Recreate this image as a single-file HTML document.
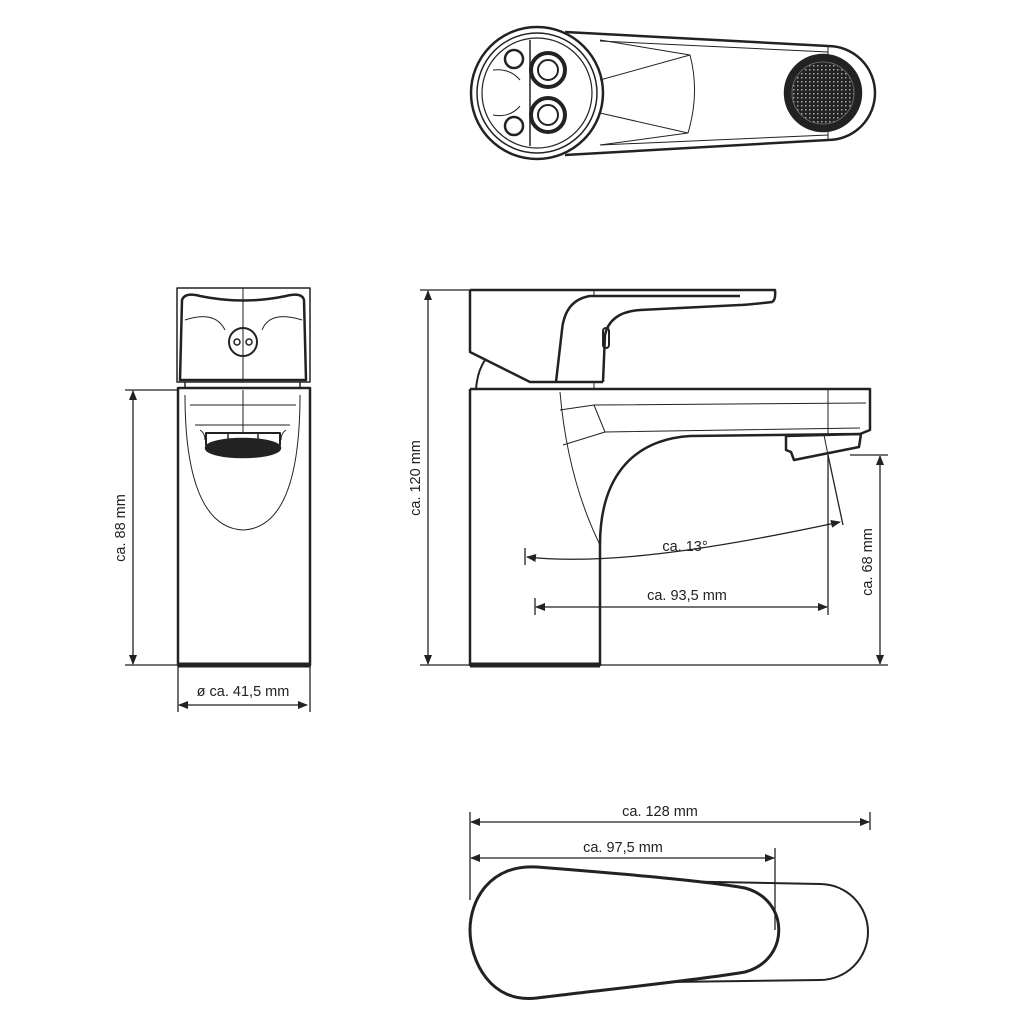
<!DOCTYPE html>
<html><head><meta charset="utf-8"><style>
html,body{margin:0;padding:0;background:#fff}
svg{display:block}
text{font-family:"Liberation Sans",sans-serif;font-size:14.5px;fill:#222}
</style></head><body>
<svg width="1024" height="1024" viewBox="0 0 1024 1024" xmlns="http://www.w3.org/2000/svg">
<defs>
<marker id="a" markerWidth="10" markerHeight="8" refX="9" refY="4" orient="auto-start-reverse" markerUnits="userSpaceOnUse"><path d="M0,0 L10,4 L0,8 Z" fill="#222"/></marker>
<pattern id="dots" width="4" height="4" patternUnits="userSpaceOnUse"><rect width="4" height="4" fill="#222"/><rect x="1" y="1" width="1.5" height="1.5" fill="#aaa"/></pattern>
</defs>
<g fill="none" stroke="#222" stroke-width="2.5" stroke-linejoin="round">
<!-- TOP VIEW -->
<path d="M565,32 L828,46 A47,47 0 0 1 828,140 L565,155"/>
<circle cx="537" cy="93" r="66" fill="#fff"/>
<circle cx="537" cy="93" r="60" stroke-width="1.5"/>
<circle cx="537" cy="93" r="55" stroke-width="1.2"/>
<path d="M530,40 L530,146" stroke-width="1.5"/>
<path d="M600,40 L690,55 Q700,93 688,133 L600,145 M600,80 L690,55 M600,113 L688,133" stroke-width="1"/>
<path d="M828,46 L828,140" stroke-width="1"/>
<path d="M600,41 L828,52 M600,145 L828,135" stroke-width="1"/>
<circle cx="548" cy="70" r="17" stroke-width="4"/><circle cx="548" cy="70" r="10" stroke-width="2"/>
<circle cx="548" cy="115" r="17" stroke-width="4"/><circle cx="548" cy="115" r="10" stroke-width="2"/>
<circle cx="514" cy="59" r="9" stroke-width="2.5"/><circle cx="514" cy="126" r="9" stroke-width="2.5"/>
<path d="M493,70 Q510,68 520,80 M493,115 Q510,118 520,106" stroke-width="1"/>
<circle cx="823" cy="93" r="38" fill="#222"/>
<circle cx="823" cy="93" r="31" fill="url(#dots)" stroke="#666" stroke-width="1"/>

<!-- FRONT VIEW -->
<rect x="177" y="288" width="133" height="94" stroke-width="1.5"/>
<path d="M182,300 Q185,292 200,296 Q243,305 286,296 Q302,292 304,300 L306,380 L180,380 Z" stroke-width="2.5"/>
<path d="M243,288 L243,382 M185,320 Q215,310 225,330 M302,320 Q270,310 262,330" stroke-width="1"/>
<circle cx="243" cy="342" r="14" stroke-width="2"/>
<circle cx="237" cy="342" r="3" stroke-width="1.5"/><circle cx="249" cy="342" r="3" stroke-width="1.5"/>
<path d="M185,382 L185,388 M300,382 L300,388" stroke-width="1.5"/>
<rect x="178" y="388" width="132" height="277"/>
<path d="M178,665 L310,665" stroke-width="5"/>
<path d="M185,395 C185,470 200,528 243,530 C286,528 300,470 300,395" stroke-width="1"/>
<path d="M190,405 L296,405 M195,425 L290,425 M243,390 L243,433 M200,430 Q205,433 205,440 M286,430 Q281,433 281,440" stroke-width="1"/>
<rect x="206" y="433" width="74" height="12" stroke-width="2"/>
<path d="M228,433 L228,441 M258,433 L258,441" stroke-width="1.5"/>
<ellipse cx="243" cy="448" rx="37" ry="9" fill="#222"/>

<!-- SIDE VIEW -->
<path d="M470,290 L775,290 L775,303 Q740,305 720,307 L625,310 Q605,318 604,330 L603,382 L530,382 L470,352 Z" stroke="none" fill="#fff"/>
<path d="M470,290 L775,290 Q776,300 772,302 Q745,305 740,305"/>
<path d="M470,290 L470,352 L530,382 L603,382"/>
<path d="M556,382 L562,330 Q565,300 590,296 L740,296"/>
<path d="M740,305 L640,310 Q610,312 605,335 L603,382"/>
<path d="M594,290 L594,296 M594,382 L594,390" stroke-width="1"/>
<rect x="603" y="328" width="6" height="20" rx="3" stroke-width="2"/>
<path d="M485,360 Q477,372 476,390" stroke-width="2"/>
<path d="M470,389 L870,389 L870,430 L860,434 L690,436"/>
<path d="M470,389 L470,665 L600,665 L600,545 C600,480 630,440 690,436"/>
<path d="M470,665 L600,665" stroke-width="5"/>
<path d="M560,392 C565,450 578,500 600,545" stroke-width="1"/>
<path d="M594,405 L866,403 M594,405 L605,432 L860,428 M560,410 L594,405 M563,445 L605,432" stroke-width="1"/>
<path d="M828,389 L828,434" stroke-width="1"/>
<path d="M786,436 L861,434 L859,447 L794,460 L791,452 L786,450 Z" stroke-width="2.5"/>
<path d="M824,435 L828,455" stroke-width="1"/>

<!-- BOTTOM VIEW -->
<path d="M660,881 L820,884 A48,48 0 0 1 820,980 L670,982" stroke-width="2"/>
<path d="M537,867 C600,872 700,880 745,888 C790,900 790,960 745,972 C700,980 600,990 537,998 C490,1004 470,960 470,930 C470,900 490,864 537,867 Z" stroke-width="3" fill="#fff"/>
</g>

<!-- DIMENSIONS -->
<g stroke="#222" stroke-width="1.3" fill="none">
<line x1="133" y1="391" x2="133" y2="664" marker-start="url(#a)" marker-end="url(#a)"/>
<line x1="125" y1="390" x2="178" y2="390"/><line x1="125" y1="665" x2="178" y2="665"/>
<line x1="428" y1="291" x2="428" y2="664" marker-start="url(#a)" marker-end="url(#a)"/>
<line x1="420" y1="290" x2="470" y2="290"/><line x1="420" y1="665" x2="470" y2="665"/>
<line x1="880" y1="456" x2="880" y2="664" marker-start="url(#a)" marker-end="url(#a)"/>
<line x1="600" y1="665" x2="888" y2="665"/><line x1="850" y1="455" x2="888" y2="455"/>
<line x1="179" y1="705" x2="307" y2="705" marker-start="url(#a)" marker-end="url(#a)"/>
<line x1="178" y1="665" x2="178" y2="712"/><line x1="310" y1="665" x2="310" y2="712"/>
<line x1="536" y1="607" x2="827" y2="607" marker-start="url(#a)" marker-end="url(#a)"/>
<line x1="535" y1="598" x2="535" y2="615"/><line x1="828" y1="455" x2="828" y2="615"/>
<line x1="828" y1="455" x2="843" y2="525"/>
<path d="M527,557 C600,565 700,552 840,522" marker-start="url(#a)" marker-end="url(#a)"/>
<line x1="525" y1="548" x2="525" y2="565"/>
<line x1="471" y1="822" x2="869" y2="822" marker-start="url(#a)" marker-end="url(#a)"/>
<line x1="470" y1="812" x2="470" y2="900"/><line x1="870" y1="812" x2="870" y2="830"/>
<line x1="471" y1="858" x2="774" y2="858" marker-start="url(#a)" marker-end="url(#a)"/>
<line x1="775" y1="848" x2="775" y2="930"/>
</g>
<g>
<text x="125" y="528" text-anchor="middle" transform="rotate(-90 125 528)">ca. 88 mm</text>
<text x="420" y="478" text-anchor="middle" transform="rotate(-90 420 478)">ca. 120 mm</text>
<text x="872" y="562" text-anchor="middle" transform="rotate(-90 872 562)">ca. 68 mm</text>
<text x="243" y="696" text-anchor="middle">ø ca. 41,5 mm</text>
<text x="687" y="600" text-anchor="middle">ca. 93,5 mm</text>
<text x="685" y="551" text-anchor="middle">ca. 13°</text>
<text x="660" y="816" text-anchor="middle">ca. 128 mm</text>
<text x="623" y="852" text-anchor="middle">ca. 97,5 mm</text>
</g>
</svg>
</body></html>
